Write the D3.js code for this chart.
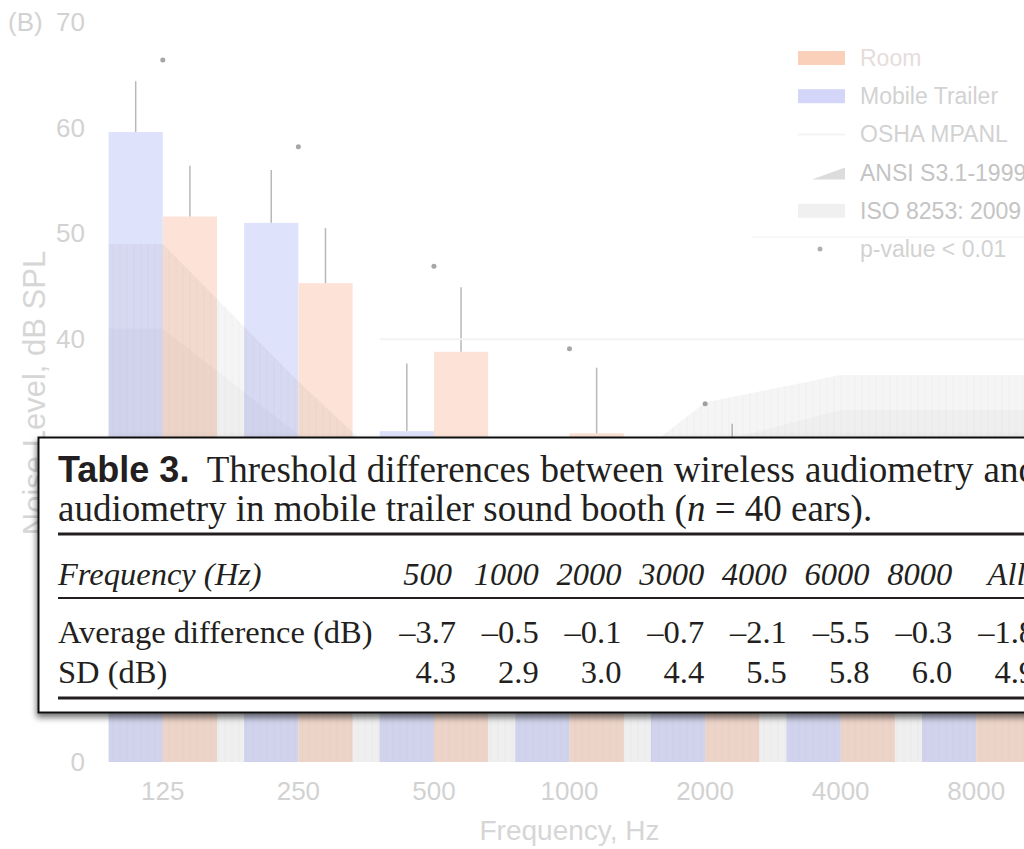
<!DOCTYPE html>
<html>
<head>
<meta charset="utf-8">
<script src="https://cdn.jsdelivr.net/npm/d3@7"></script>
<style>
  body { margin: 0; background: #fff; }
  svg { display: block; }
</style>
</head>
<body>
<svg id="chart" width="1024" height="849"></svg>
<script>
// background figure (faded)
const frequencies = ['125', '250', '500', '1000', '2000', '4000', '8000'];
const trailerLevels = [59.6, 51.0, 31.3, 22.0, 21.0, 19.0, 17.0];
const trailerErrors = [4.8, 5.0, 6.4, 5.5, 5.0, 5.0, 5.0];
const roomLevels = [51.6, 45.3, 38.8, 31.1, 26.0, 24.0, 21.0];
const roomErrors = [4.8, 5.2, 6.1, 6.2, 6.0, 5.5, 5.5];
const significance = [66.4, 58.2, 46.9, 39.1, 33.9, null, null];
const ansiLevels = [49, 36, 24, 24, 34, 36.6, 36.6];
const isoLevels = [41, 31, 21, 21, 30, 33.3, 33.3];
const oshaLevel = 40;
// 10, 20 and 30 sit under the table box
const yTicks = [0, 40, 50, 60, 70];
const legendItems = ['Room', 'Mobile Trailer', 'OSHA MPANL', 'ANSI S3.1-1999', 'ISO 8253: 2009', 'p-value < 0.01'];

// table overlay
const tableFreqs = ['500', '1000', '2000', '3000', '4000', '6000', '8000', 'All'];
const avgDiff = ['\u20133.7', '\u20130.5', '\u20130.1', '\u20130.7', '\u20132.1', '\u20135.5', '\u20130.3', '\u20131.8'];
const sdValues = ['4.3', '2.9', '3.0', '4.4', '5.5', '5.8', '6.0', '4.9'];
const captionWords = ['Threshold', 'differences', 'between', 'wireless', 'audiometry', 'and'];

const svg = d3.select('#chart');
const sans = "'Liberation Sans', Arial, sans-serif";
const serif = "'Liberation Serif', 'Times New Roman', serif";

const y = d3.scaleLinear().domain([0, 70]).range([762, 22]);
const x = d3.scaleBand()
  .domain(frequencies)
  .range([95, 1044])
  .paddingInner(0.2)
  .paddingOuter(0.1);
const xSub = d3.scaleBand()
  .domain(['trailer', 'room'])
  .range([0, x.bandwidth()]);

const rows = frequencies.map((f, i) => ({
  f,
  trailer: trailerLevels[i],
  trailerErr: trailerErrors[i],
  room: roomLevels[i],
  roomErr: roomErrors[i],
  sig: significance[i],
  ansi: ansiLevels[i],
  iso: isoLevels[i],
}));

const defs = svg.append('defs');
const hatch = defs.append('pattern')
  .attr('id', 'hatch')
  .attr('patternUnits', 'userSpaceOnUse')
  .attr('width', 7)
  .attr('height', 7);
hatch.append('rect').attr('width', 7).attr('height', 7).attr('fill', '#000').attr('opacity', 0.04);
hatch.append('line')
  .attr('x1', 1).attr('x2', 1).attr('y1', 0).attr('y2', 7)
  .attr('stroke', '#000').attr('stroke-opacity', 0.025);

const shadow = defs.append('filter')
  .attr('id', 'shadow')
  .attr('x', '-5%').attr('y', '-5%')
  .attr('width', '115%').attr('height', '120%');
shadow.append('feDropShadow')
  .attr('dx', -1).attr('dy', 4)
  .attr('stdDeviation', 3)
  .attr('flood-color', '#000')
  .attr('flood-opacity', 0.55);

const plot = svg.append('g');

// bars
const groups = plot.selectAll('.group')
  .data(rows)
  .enter().append('g')
  .attr('class', 'group')
  .attr('transform', d => `translate(${x(d.f)},0)`);

groups.append('rect')
  .attr('x', xSub('trailer'))
  .attr('y', d => y(d.trailer))
  .attr('width', xSub.bandwidth())
  .attr('height', d => y(0) - y(d.trailer))
  .attr('fill', '#dfe2fb');

groups.append('rect')
  .attr('x', xSub('room'))
  .attr('y', d => y(d.room))
  .attr('width', xSub.bandwidth())
  .attr('height', d => y(0) - y(d.room))
  .attr('fill', '#fde3d7');

// ANSI / ISO regions
const areaPoints = key => {
  const pts = rows.map(d => ({ x: x(d.f) + x.bandwidth() / 2, v: d[key] }));
  pts.unshift({ x: x(frequencies[0]), v: rows[0][key] });
  pts.push({ x: x.range()[1], v: rows[rows.length - 1][key] });
  return pts;
};
const area = d3.area().x(d => d.x).y0(y(0)).y1(d => y(d.v));

plot.append('path')
  .datum(areaPoints('iso'))
  .attr('d', area)
  .attr('fill', '#000')
  .attr('opacity', 0.022);

plot.append('path')
  .datum(areaPoints('ansi'))
  .attr('d', area)
  .attr('fill', 'url(#hatch)');

// OSHA line
plot.append('line')
  .attr('x1', x('500'))
  .attr('x2', x.range()[1])
  .attr('y1', y(oshaLevel))
  .attr('y2', y(oshaLevel))
  .attr('stroke', '#f3f3f3')
  .attr('stroke-width', 2);

// error bars (upper only)
groups.append('line')
  .attr('x1', xSub('trailer') + xSub.bandwidth() / 2)
  .attr('x2', xSub('trailer') + xSub.bandwidth() / 2)
  .attr('y1', d => y(d.trailer))
  .attr('y2', d => y(d.trailer + d.trailerErr))
  .attr('stroke', '#b8b8b8')
  .attr('stroke-width', 1.5);

groups.append('line')
  .attr('x1', xSub('room') + xSub.bandwidth() / 2)
  .attr('x2', xSub('room') + xSub.bandwidth() / 2)
  .attr('y1', d => y(d.room))
  .attr('y2', d => y(d.room + d.roomErr))
  .attr('stroke', '#b8b8b8')
  .attr('stroke-width', 1.5);

groups.filter(d => d.sig !== null).append('circle')
  .attr('cx', x.bandwidth() / 2)
  .attr('cy', d => y(d.sig))
  .attr('r', 2.5)
  .attr('fill', '#a6a6a6');

// axes
const yAxis = svg.append('g')
  .attr('transform', 'translate(87,0)')
  .call(d3.axisLeft(y).tickValues(yTicks).tickSize(0).tickPadding(2));
yAxis.select('.domain').remove();
yAxis.selectAll('text')
  .attr('fill', '#d2d2d2')
  .style('font-family', sans)
  .style('font-size', '26px');

const xAxis = svg.append('g')
  .attr('transform', `translate(0,${y(0) + 16})`)
  .call(d3.axisBottom(x).tickSize(0).tickPadding(4));
xAxis.select('.domain').remove();
xAxis.selectAll('text')
  .attr('fill', '#d2d2d2')
  .style('font-family', sans)
  .style('font-size', '26px');

svg.append('text')
  .attr('x', 8)
  .attr('y', 31)
  .attr('fill', '#d2d2d2')
  .style('font-family', sans)
  .style('font-size', '26px')
  .text('(B)');

svg.append('text')
  .attr('transform', 'translate(45,393) rotate(-90)')
  .attr('text-anchor', 'middle')
  .attr('fill', '#d6d6d6')
  .style('font-family', sans)
  .style('font-size', '31px')
  .text('Noise Level, dB SPL');

svg.append('text')
  .attr('x', (x.range()[0] + x.range()[1]) / 2)
  .attr('y', 840)
  .attr('text-anchor', 'middle')
  .attr('fill', '#d6d6d6')
  .style('font-family', sans)
  .style('font-size', '28px')
  .text('Frequency, Hz');

// legend
const ly = d3.scalePoint().domain(legendItems).range([58, 249]);
svg.append('line')
  .attr('x1', 752).attr('x2', 1024)
  .attr('y1', 237).attr('y2', 237)
  .attr('stroke', '#f0f0f0');

const legend = svg.append('g');
legend.append('rect')
  .attr('x', 798).attr('y', ly('Room') - 7).attr('width', 47).attr('height', 14)
  .attr('fill', '#fbd0bb');
legend.append('rect')
  .attr('x', 798).attr('y', ly('Mobile Trailer') - 7).attr('width', 47).attr('height', 14)
  .attr('fill', '#d3d6f8');
legend.append('line')
  .attr('x1', 798).attr('x2', 845)
  .attr('y1', ly('OSHA MPANL')).attr('y2', ly('OSHA MPANL'))
  .attr('stroke', '#f4f4f4').attr('stroke-width', 2);
legend.append('path')
  .attr('d', `M812,${ly('ANSI S3.1-1999') + 7}L845,${ly('ANSI S3.1-1999') + 7}L845,${ly('ANSI S3.1-1999') - 5}Z`)
  .attr('fill', '#dcdcdc');
legend.append('rect')
  .attr('x', 798).attr('y', ly('ISO 8253: 2009') - 7).attr('width', 47).attr('height', 14)
  .attr('fill', '#f0f0f0');
legend.append('circle')
  .attr('cx', 820).attr('cy', ly('p-value < 0.01'))
  .attr('r', 2.5).attr('fill', '#b0b0b0');
legend.selectAll('.ltext')
  .data(legendItems)
  .enter().append('text')
  .attr('class', 'ltext')
  .attr('x', 860)
  .attr('y', d => ly(d))
  .attr('dy', '0.35em')
  .attr('fill', d => (d.startsWith('ANSI') || d.startsWith('ISO') ? '#c4c4c4' : (d === 'Room' ? '#e6dcdc' : '#d2d2d2')))
  .style('font-family', sans)
  .style('font-size', '23px')
  .text(d => d);

// ---------- table overlay ----------
const table = svg.append('g');
table.append('rect')
  .attr('x', 38.5).attr('y', 437.5)
  .attr('width', 1010).attr('height', 275)
  .attr('fill', '#fff')
  .attr('stroke', '#111')
  .attr('stroke-width', 2)
  .attr('filter', 'url(#shadow)');

const left = 58;
const right = 1037;

// caption line 1, justified
const cap1 = table.append('g');
const label = cap1.append('text')
  .attr('y', 482)
  .style('font-family', sans)
  .style('font-weight', 'bold')
  .style('font-size', '36px')
  .attr('fill', '#231f20')
  .text('Table 3.');
const words = cap1.selectAll('.cw')
  .data(captionWords)
  .enter().append('text')
  .attr('class', 'cw')
  .attr('y', 482)
  .style('font-family', serif)
  .style('font-size', '37px')
  .attr('fill', '#231f20')
  .text(d => d);
const widths = [label.node().getComputedTextLength()]
  .concat(words.nodes().map(n => n.getComputedTextLength()));
const gap = (right - left - d3.sum(widths)) / (widths.length - 1);
let cx = left;
label.attr('x', cx);
cx += widths[0] + gap + 6;
words.each(function (d, i) {
  d3.select(this).attr('x', cx);
  cx += widths[i + 1] + gap - 1.2;
});

// caption line 2
const cap2 = table.append('text')
  .attr('x', left)
  .attr('y', 521)
  .style('font-family', serif)
  .style('font-size', '37px')
  .attr('fill', '#231f20');
cap2.append('tspan').text('audiometry in mobile trailer sound booth (');
cap2.append('tspan').style('font-style', 'italic').text('n');
cap2.append('tspan').text(' = 40 ears).');

// rules
const rule = (yy, w) => table.append('line')
  .attr('x1', left).attr('x2', 1040)
  .attr('y1', yy).attr('y2', yy)
  .attr('stroke', '#231f20')
  .attr('stroke-width', w);
rule(534, 3);
rule(598, 2);
rule(698, 3);

// rows
const col = d3.scalePoint().domain(tableFreqs).range([456, 1035]);
const rowStyle = sel => sel
  .style('font-family', serif)
  .style('font-size', '32.5px')
  .attr('fill', '#231f20');

table.append('text').attr('x', left).attr('y', 585)
  .call(rowStyle).style('font-style', 'italic').text('Frequency (Hz)');
table.append('text').attr('x', left).attr('y', 643)
  .call(rowStyle).text('Average difference (dB)');
table.append('text').attr('x', left).attr('y', 683)
  .call(rowStyle).text('SD (dB)');

const avgText = table.selectAll('.avg')
  .data(tableFreqs)
  .enter().append('text')
  .attr('class', 'avg')
  .attr('x', d => col(d))
  .attr('y', 643)
  .attr('text-anchor', 'end')
  .call(rowStyle)
  .text((d, i) => avgDiff[i]);

table.selectAll('.sd')
  .data(tableFreqs)
  .enter().append('text')
  .attr('class', 'sd')
  .attr('x', d => col(d))
  .attr('y', 683)
  .attr('text-anchor', 'end')
  .call(rowStyle)
  .text((d, i) => sdValues[i]);

const valueWidth = avgText.nodes().map(n => n.getComputedTextLength());
const head = table.selectAll('.head')
  .data(tableFreqs)
  .enter().append('text')
  .attr('class', 'head')
  .attr('y', 585)
  .attr('text-anchor', 'middle')
  .call(rowStyle)
  .style('font-style', 'italic')
  .text(d => d);
head.each(function (d, i) {
  const hw = this.getComputedTextLength();
  const w = Math.max(hw, valueWidth[i]);
  d3.select(this).attr('x', col(d) - w / 2);
});
</script>
</body>
</html>
